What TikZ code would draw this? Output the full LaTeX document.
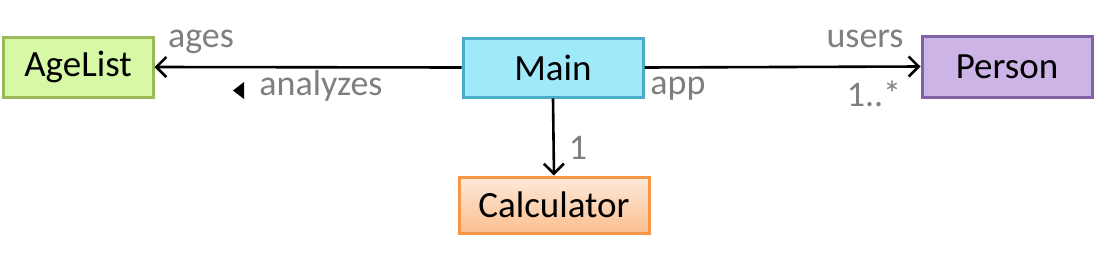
\documentclass[tikz,border=0pt]{standalone}
\usepackage{fontspec}
\setmainfont{Carlito}
\usetikzlibrary{arrows.meta}

\definecolor{listfill}{HTML}{D7F9A6}
\definecolor{listline}{HTML}{9BBB59}
\definecolor{mainfill}{HTML}{9EEAFB}
\definecolor{mainline}{HTML}{4BACC6}
\definecolor{personfill}{HTML}{CCB4E6}
\definecolor{personline}{HTML}{8064A2}
\definecolor{calctop}{HTML}{FDE9DA}
\definecolor{calcbot}{HTML}{FBBF8F}
\definecolor{calcline}{HTML}{F79646}
\definecolor{labelgray}{HTML}{7F7F7F}

\tikzset{
  classbox/.style={draw, line width=3pt, inner sep=0pt, anchor=center,
    font=\fontsize{37}{42}\selectfont},
  rolelabel/.style={anchor=base, inner sep=0pt, text=labelgray,
    font=\fontsize{36}{42}\selectfont},
  assoc/.style={line width=2.6pt, -{Straight Barb[length=10pt,width=20pt,line width=2.6pt]}}
}

\begin{document}
\begin{tikzpicture}[x=1pt, y=-1pt]

  %% ==== boxes ====
  \node[classbox, fill=listfill, draw=listline, minimum width=150pt, minimum height=60pt]
    (agelist) at (78,67) {AgeList};
  \node[classbox, fill=mainfill, draw=mainline, minimum width=180pt, minimum height=59pt]
    (main) at (553,67.5) {Main};
  \node[classbox, fill=personfill, draw=personline, minimum width=170pt, minimum height=61pt]
    (person) at (1007,66.5) {Person};
  \node[classbox, top color=calctop, bottom color=calcbot, draw=calcline,
    minimum width=190pt, minimum height=56pt]
    (calc) at (554,205) {Calculator};

  %% ==== associations ====
  \draw[assoc] (main.west) -- (agelist.east);
  \draw[assoc] (main.east) -- (person.west);
  \draw[assoc] (main.south) -- (calc.north);

  %% ==== role / multiplicity labels ====
  \node[rolelabel] (ages) at (201,47) {ages};
  \node[rolelabel] (analyzes) at (321,95) {analyzes};
  \fill (233,90.5) -- (244,82) -- (244,99) -- cycle;   % direction mark
  \node[rolelabel] (app) at (678,94) {app};
  \node[rolelabel] (users) at (865,47) {users};
  \node[rolelabel] (many) at (874,106) {1..*};
  \node[rolelabel] (one) at (578,159) {1};

  % fix canvas
  \pgfresetboundingbox
  \path[use as bounding box] (0,0) rectangle (1097,252);
\end{tikzpicture}
\end{document}
